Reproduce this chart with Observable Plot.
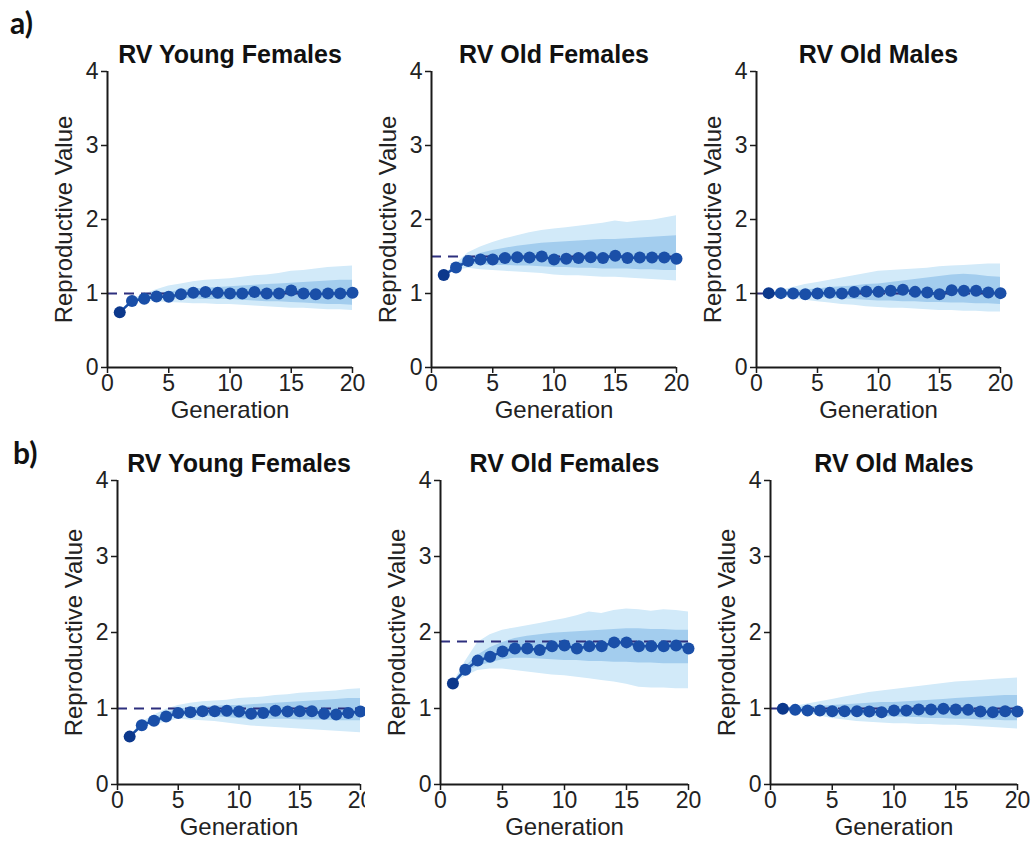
<!DOCTYPE html>
<html>
<head>
<meta charset="utf-8">
<script src="https://cdn.jsdelivr.net/npm/d3@7"></script>
<script src="https://cdn.jsdelivr.net/npm/@observablehq/plot@0.6"></script>
<style>
  html, body { margin: 0; padding: 0; background: #fff; }
  #root { position: relative; width: 1033px; height: 850px; overflow: hidden; background: #fff; font-family: "Liberation Sans", Arial, sans-serif; }
  .panel { position: absolute; }
  .tag { position: absolute; font-family: Lato, "Open Sans", sans-serif; font-weight: 700; font-size: 30px; line-height: 1; color: #111; }
</style>
</head>
<body>
<div id="root"></div>
<script>
// ---- data ----
const generations = [1,2,3,4,5,6,7,8,9,10,11,12,13,14,15,16,17,18,19,20];
const panelTitles = ["RV Young Females", "RV Old Females", "RV Old Males"];
const rowTags = ["a)", "b)"];
const xTicks = [0, 5, 10, 15, 20];
const yTicks = [0, 1, 2, 3, 4];
const refValues = [1.0, 1.5, 1.0, 1.0, 1.88, 1.0];

// row a, young females
const aYF_mean = [0.745,0.90,0.93,0.96,0.956,0.99,1.01,1.02,1.01,1.00,1.00,1.02,1.00,1.00,1.04,1.00,0.99,1.00,1.00,1.01];
const aYF_hi95 = [0.745,0.92,0.99,1.05,1.10,1.13,1.16,1.18,1.19,1.20,1.22,1.24,1.25,1.27,1.30,1.31,1.33,1.35,1.36,1.37];
const aYF_lo95 = [0.745,0.88,0.90,0.89,0.88,0.87,0.86,0.86,0.85,0.85,0.84,0.83,0.82,0.81,0.80,0.80,0.79,0.78,0.78,0.77];
const aYF_hi50 = [0.745,0.91,0.96,1.00,1.02,1.04,1.06,1.07,1.08,1.09,1.10,1.11,1.12,1.13,1.14,1.15,1.16,1.17,1.18,1.18];
const aYF_lo50 = [0.745,0.89,0.92,0.93,0.93,0.93,0.93,0.92,0.92,0.92,0.91,0.90,0.89,0.89,0.88,0.87,0.86,0.85,0.85,0.84];

// row a, old females
const aOF_mean = [1.25,1.35,1.44,1.46,1.46,1.48,1.49,1.485,1.50,1.46,1.47,1.48,1.49,1.48,1.51,1.48,1.485,1.485,1.485,1.47];
const aOF_hi95 = [1.25,1.40,1.55,1.63,1.69,1.74,1.78,1.82,1.85,1.87,1.89,1.91,1.93,1.95,1.98,1.96,1.98,1.99,2.02,2.05];
const aOF_lo95 = [1.25,1.31,1.34,1.32,1.31,1.30,1.29,1.28,1.27,1.25,1.24,1.24,1.23,1.22,1.22,1.21,1.20,1.19,1.18,1.17];
const aOF_hi50 = [1.25,1.37,1.48,1.54,1.58,1.61,1.64,1.66,1.68,1.69,1.70,1.71,1.72,1.73,1.73,1.74,1.75,1.76,1.77,1.78];
const aOF_lo50 = [1.25,1.33,1.39,1.39,1.38,1.38,1.37,1.37,1.36,1.35,1.35,1.34,1.34,1.33,1.33,1.33,1.32,1.32,1.31,1.31];

// row a, old males
const aOM_mean = [1.005,1.005,1.00,0.99,1.00,1.01,1.00,1.02,1.027,1.022,1.036,1.05,1.022,1.013,0.99,1.045,1.036,1.036,1.013,1.005];
const aOM_hi95 = [1.00,1.04,1.08,1.12,1.15,1.18,1.21,1.24,1.27,1.30,1.31,1.32,1.33,1.34,1.36,1.37,1.38,1.39,1.40,1.40];
const aOM_lo95 = [1.00,0.96,0.93,0.91,0.89,0.87,0.85,0.84,0.82,0.81,0.80,0.80,0.79,0.78,0.77,0.77,0.76,0.76,0.75,0.75];
const aOM_hi50 = [1.00,1.02,1.03,1.05,1.06,1.08,1.09,1.10,1.12,1.13,1.15,1.17,1.19,1.21,1.23,1.25,1.26,1.25,1.23,1.22];
const aOM_lo50 = [1.00,0.98,0.97,0.96,0.95,0.94,0.93,0.92,0.91,0.90,0.90,0.89,0.89,0.88,0.88,0.87,0.87,0.86,0.86,0.85];

// row b, young females
const bYF_mean = [0.63,0.78,0.84,0.895,0.94,0.95,0.965,0.965,0.97,0.96,0.93,0.94,0.97,0.96,0.965,0.965,0.93,0.92,0.94,0.96];
const bYF_hi95 = [0.63,0.82,0.91,0.99,1.04,1.07,1.09,1.10,1.11,1.13,1.14,1.15,1.17,1.18,1.20,1.21,1.22,1.23,1.25,1.26];
const bYF_lo95 = [0.63,0.75,0.79,0.82,0.86,0.85,0.84,0.83,0.81,0.79,0.77,0.76,0.75,0.74,0.73,0.72,0.71,0.70,0.69,0.68];
const bYF_hi50 = [0.63,0.80,0.87,0.94,0.99,1.01,1.02,1.03,1.04,1.04,1.05,1.06,1.07,1.08,1.09,1.10,1.11,1.12,1.13,1.13];
const bYF_lo50 = [0.63,0.76,0.81,0.85,0.90,0.90,0.90,0.89,0.88,0.87,0.86,0.86,0.86,0.86,0.85,0.85,0.85,0.84,0.84,0.84];

// row b, old females
const bOF_mean = [1.33,1.51,1.63,1.68,1.75,1.79,1.79,1.77,1.82,1.83,1.79,1.82,1.82,1.87,1.87,1.82,1.82,1.82,1.83,1.79];
const bOF_hi95 = [1.33,1.62,1.87,1.97,2.03,2.06,2.09,2.12,2.15,2.18,2.22,2.27,2.25,2.29,2.31,2.30,2.28,2.30,2.29,2.27];
const bOF_lo95 = [1.33,1.42,1.50,1.52,1.52,1.50,1.48,1.46,1.44,1.43,1.41,1.39,1.37,1.35,1.32,1.28,1.27,1.27,1.26,1.26];
const bOF_hi50 = [1.33,1.55,1.70,1.80,1.87,1.92,1.95,1.97,1.99,2.00,2.01,2.02,2.03,2.04,2.05,2.05,2.04,2.04,2.03,2.03];
const bOF_lo50 = [1.33,1.47,1.56,1.60,1.64,1.66,1.66,1.65,1.64,1.63,1.63,1.62,1.62,1.61,1.61,1.60,1.60,1.59,1.59,1.59];

// row b, old males
const bOM_mean = [0.996,0.982,0.974,0.974,0.965,0.965,0.965,0.96,0.952,0.974,0.974,0.987,0.987,0.996,0.987,0.982,0.96,0.952,0.965,0.96];
const bOM_hi95 = [1.00,1.03,1.06,1.09,1.12,1.15,1.18,1.21,1.23,1.25,1.27,1.29,1.31,1.33,1.35,1.36,1.37,1.38,1.39,1.40];
const bOM_lo95 = [1.00,0.96,0.93,0.90,0.87,0.85,0.83,0.82,0.81,0.80,0.80,0.79,0.79,0.78,0.78,0.77,0.76,0.75,0.74,0.73];
const bOM_hi50 = [1.00,1.01,1.02,1.03,1.04,1.05,1.06,1.07,1.08,1.08,1.09,1.10,1.11,1.12,1.13,1.14,1.15,1.16,1.17,1.17];
const bOM_lo50 = [1.00,0.98,0.96,0.94,0.93,0.92,0.91,0.90,0.89,0.89,0.88,0.88,0.87,0.87,0.86,0.86,0.85,0.85,0.84,0.84];

// ---- layout (pixel positions of the frames) ----
const frames = [
  {x0: 107, x1: 352, y0: 367, y1: 71},
  {x0: 431, x1: 676, y0: 367, y1: 71},
  {x0: 756, x1: 1000, y0: 367, y1: 71},
  {x0: 117, x1: 360, y0: 784, y1: 480},
  {x0: 440, x1: 688, y0: 784, y1: 480},
  {x0: 770, x1: 1017, y0: 784, y1: 480}
];
const series = [
  [aYF_mean, aYF_lo95, aYF_hi95, aYF_lo50, aYF_hi50],
  [aOF_mean, aOF_lo95, aOF_hi95, aOF_lo50, aOF_hi50],
  [aOM_mean, aOM_lo95, aOM_hi95, aOM_lo50, aOM_hi50],
  [bYF_mean, bYF_lo95, bYF_hi95, bYF_lo50, bYF_hi50],
  [bOF_mean, bOF_lo95, bOF_hi95, bOF_lo50, bOF_hi50],
  [bOM_mean, bOM_lo95, bOM_hi95, bOM_lo50, bOM_hi50]
];

const C_OUTER = "#d2eaf9";
const C_INNER = "#a3cdee";
const C_DOT = "#1a4fa8";
const C_FIRST = "#0c388c";
const C_REF = "#2d2f7e";
const C_AXIS = "#1a1a1a";

const ML = 75, MR = 20, MT = 45, MB = 70;
const root = document.getElementById("root");

series.forEach((s, k) => {
  const f = frames[k];
  const [mean, lo95, hi95, lo50, hi50] = s;
  const rows = generations.map((g, i) => ({g, m: mean[i], lo95: lo95[i], hi95: hi95[i], lo50: lo50[i], hi50: hi50[i]}));
  const W = f.x1 - f.x0, H = f.y0 - f.y1;
  const chart = Plot.plot({
    width: ML + W + MR,
    height: MT + H + MB,
    marginLeft: ML, marginRight: MR, marginTop: MT, marginBottom: MB,
    style: {fontFamily: '"Liberation Sans", Arial, sans-serif', fontSize: "23px", color: "#222", background: k === 4 ? "#fff" : "transparent", overflow: "visible"},
    x: {domain: [0, 20]},
    y: {domain: [0, 4]},
    marks: [
      Plot.areaY(rows, {x: "g", y1: "lo95", y2: "hi95", fill: C_OUTER}),
      Plot.areaY(rows, {x: "g", y1: "lo50", y2: "hi50", fill: C_INNER}),
      Plot.ruleY([refValues[k]], {stroke: C_REF, strokeWidth: 2, strokeDasharray: "10,7"}),
      Plot.line(rows, {x: "g", y: "m", stroke: C_DOT, strokeWidth: 2.5}),
      Plot.dot(rows, {x: "g", y: "m", r: 6, fill: (d) => d.g === 1 ? C_FIRST : C_DOT, stroke: "none"}),
      Plot.ruleX([0], {stroke: C_AXIS, strokeWidth: 2}),
      Plot.ruleY([0], {stroke: C_AXIS, strokeWidth: 2}),
      Plot.axisX({ticks: xTicks, tickFormat: d3.format("d"), tickSize: 6, tickPadding: 1, stroke: C_AXIS, strokeWidth: 1.5, label: null, fontSize: 23, fill: "#222"}),
      Plot.axisY({ticks: yTicks, tickFormat: d3.format("d"), tickSize: 6, tickPadding: 3, stroke: C_AXIS, strokeWidth: 1.5, label: null, fontSize: 23, fill: "#222"}),
      Plot.text(["Generation"], {frameAnchor: "bottom", dy: 50, fontSize: 24, fill: "#222"}),
      Plot.text(["Reproductive Value"], {frameAnchor: "left", textAnchor: "middle", dx: -43, rotate: -90, fontSize: 24, fill: "#222"}),
      Plot.text([panelTitles[k % 3]], {frameAnchor: "top", dy: -26, fontSize: 25, fontWeight: "bold", fill: "#111"})
    ]
  });
  chart.classList.add("panel");
  chart.style.left = (f.x0 - ML) + "px";
  chart.style.top = (f.y1 - MT) + "px";
  root.appendChild(chart);
});

rowTags.forEach((t, i) => {
  const d = document.createElement("div");
  d.className = "tag";
  d.textContent = t;
  d.style.left = (i === 0 ? 10 : 13) + "px";
  d.style.top = (i === 0 ? 7 : 437) + "px";
  root.appendChild(d);
});
</script>
</body>
</html>
